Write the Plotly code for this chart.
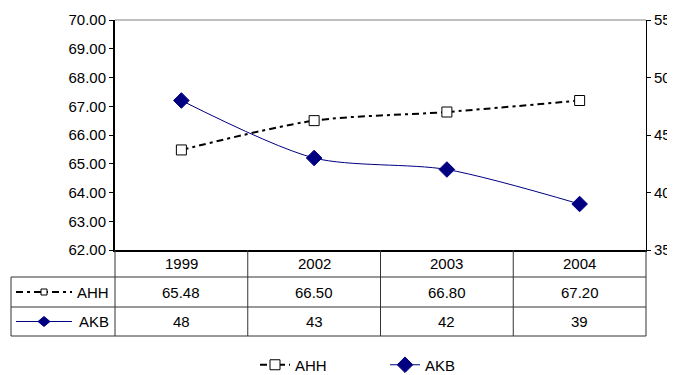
import plotly.graph_objects as go

years = ["1999", "2002", "2003", "2004"]
ahh = [65.48, 66.50, 66.80, 67.20]
akb = [48, 43, 42, 39]
ahh_name = "AHH"
akb_name = "AKB"
left_ticks = [62, 63, 64, 65, 66, 67, 68, 69, 70]
right_ticks = [35, 40, 45, 50, 55]

OFF = 8  # page body margin
W, H = 675 - OFF, 375 - OFF
FONT = "Liberation Sans, Arial, sans-serif"
NAVY = "#000080"
DASH = "7px,4px,3px,4px"

def px(x):
    return (x - OFF) / W

def py(y):
    return 1 - (y - OFF) / H

# plot area in page pixels
L, R, T, B = 115, 646, 20, 250
# table rows
R1, R2, R3 = 277, 307, 336
TL = 11

fig = go.Figure()
fig.add_trace(go.Scatter(
    x=years, y=ahh, name=ahh_name, mode="lines+markers",
    line=dict(color="black", width=2, dash=DASH, shape="spline", smoothing=0.8),
    marker=dict(symbol="square", size=10, color="white", line=dict(color="black", width=1)),
    yaxis="y"))
fig.add_trace(go.Scatter(
    x=years, y=akb, name=akb_name, mode="lines+markers",
    line=dict(color=NAVY, width=1, shape="spline", smoothing=0.8),
    marker=dict(symbol="diamond", size=12, color=NAVY, line=dict(color=NAVY, width=1)),
    yaxis="y2"))

shapes = []
LC = "#333333"
def hline(y, x0, x1, color=LC, w=1):
    shapes.append(dict(type="line", xref="paper", yref="paper", x0=px(x0), x1=px(x1),
                       y0=py(y), y1=py(y), line=dict(color=color, width=w)))
def vline(x, y0, y1, color=LC, w=1):
    shapes.append(dict(type="line", xref="paper", yref="paper", x0=px(x), x1=px(x),
                       y0=py(y0), y1=py(y1), line=dict(color=color, width=w)))

hline(T, L, R, color="#808080")
for y in (R1, R2, R3):
    hline(y, TL, R)
vline(TL, R1, R3)
vline(L, B, R3)
vline(R, B, R3)
for i in range(len(years) - 1):
    shapes.append(dict(type="line", xref="x", yref="paper", x0=i + 0.5, x1=i + 0.5,
                       y0=py(B), y1=py(R3), line=dict(color=LC, width=1)))

# legend keys inside table
ky1 = (R1 + R2) / 2
ky2 = (R2 + R3) / 2
shapes.append(dict(type="line", xref="paper", yref="paper", x0=px(16), x1=px(72),
                   y0=py(ky1), y1=py(ky1), line=dict(color="black", width=2, dash=DASH)))
shapes.append(dict(type="rect", xref="paper", yref="paper", x0=px(41), x1=px(47),
                   y0=py(ky1 + 3), y1=py(ky1 - 3), fillcolor="white", line=dict(color="black", width=1)))
shapes.append(dict(type="line", xref="paper", yref="paper", x0=px(16), x1=px(72),
                   y0=py(ky2), y1=py(ky2), line=dict(color=NAVY, width=1)))
cx = 44
shapes.append(dict(type="path", xref="paper", yref="paper",
                   path=f"M {px(cx-6)},{py(ky2)} L {px(cx)},{py(ky2-5)} L {px(cx+6)},{py(ky2)} L {px(cx)},{py(ky2+5)} Z",
                   fillcolor=NAVY, line=dict(color=NAVY, width=1)))

ann = []
tf = dict(family=FONT, size=15, color="black")
for i, yr in enumerate(years):
    ann.append(dict(x=i, xref="x", y=py((B + R1) / 2), yref="paper", text=yr,
                    showarrow=False, font=tf, xanchor="center", yanchor="middle"))
    ann.append(dict(x=i, xref="x", y=py(ky1), yref="paper", text=f"{ahh[i]:.2f}",
                    showarrow=False, font=tf, xanchor="center", yanchor="middle"))
    ann.append(dict(x=i, xref="x", y=py(ky2), yref="paper", text=f"{akb[i]}",
                    showarrow=False, font=tf, xanchor="center", yanchor="middle"))
ann.append(dict(x=px(111), xref="paper", y=py(ky1), yref="paper", text=ahh_name,
                showarrow=False, font=tf, xanchor="right", yanchor="middle"))
ann.append(dict(x=px(111), xref="paper", y=py(ky2), yref="paper", text=akb_name,
                showarrow=False, font=tf, xanchor="right", yanchor="middle"))

fig.update_layout(
    width=W, height=H,
    margin=dict(l=0, r=0, t=0, b=0, autoexpand=False),
    paper_bgcolor="white", plot_bgcolor="white",
    font=tf,
    xaxis=dict(domain=[px(L), px(R)], type="category", range=[-0.5, len(years) - 0.5],
               showticklabels=False, ticks="", showgrid=False, zeroline=False,
               showline=True, linecolor="black", linewidth=2, automargin=False),
    yaxis=dict(domain=[py(B), py(T)], range=[left_ticks[0], left_ticks[-1]], tickvals=left_ticks,
               tickformat=".2f", ticks="outside", ticklen=4, tickcolor="black",
               showgrid=False, zeroline=False, showline=True, linecolor="black", linewidth=2,
               automargin=False, tickfont=dict(family=FONT, size=15)),
    yaxis2=dict(overlaying="y", side="right", range=[right_ticks[0], right_ticks[-1]],
                tickvals=right_ticks, ticks="outside", ticklen=4, tickcolor="black",
                showgrid=False, zeroline=False, showline=True, linecolor="black", linewidth=1,
                automargin=False, tickfont=dict(family=FONT, size=15)),
    shapes=shapes, annotations=ann,
    showlegend=True,
    legend=dict(orientation="h", x=px(385), xanchor="center", y=py(365), yanchor="middle",
                font=dict(family=FONT, size=15), bgcolor="rgba(0,0,0,0)",
                entrywidth=85, entrywidthmode="pixels"),
)

fig.write_html("out.html")
